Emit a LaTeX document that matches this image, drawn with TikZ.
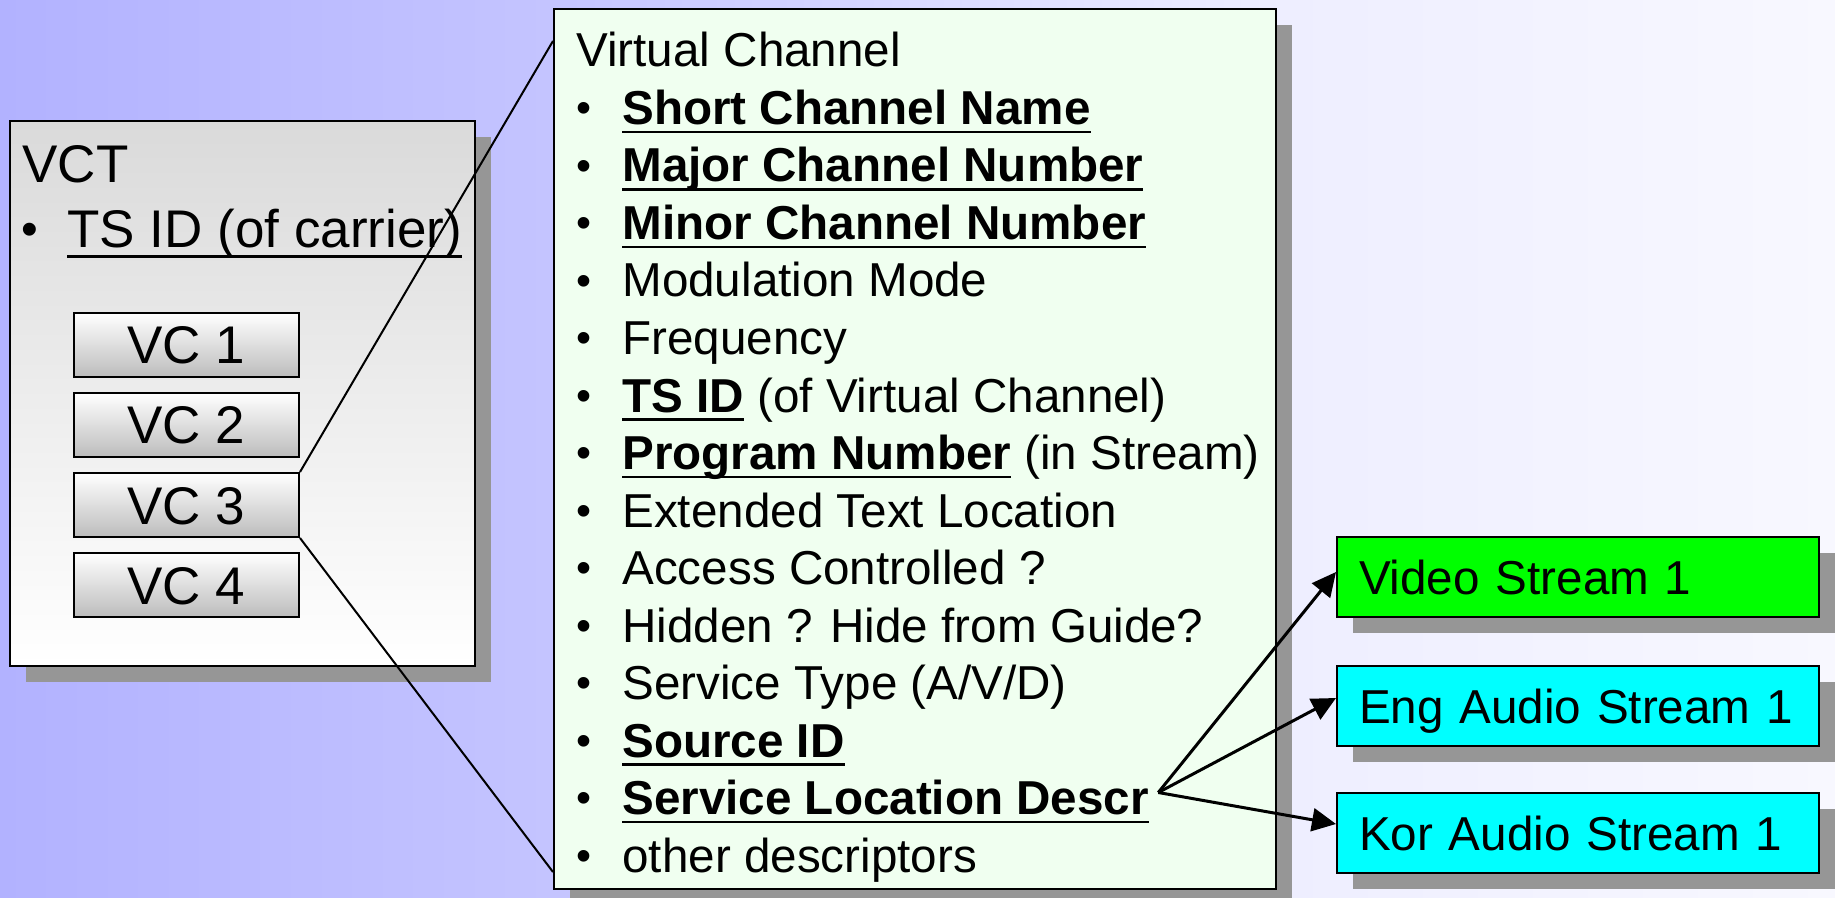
\documentclass[tikz,border=0pt]{standalone}
\usepackage{fontspec}
\setmainfont{Liberation Sans}
\usetikzlibrary{shadows,arrows.meta,calc}
\definecolor{bgL}{RGB}{178,178,255}
\definecolor{bgA}{RGB}{196,196,255}
\definecolor{bgB}{RGB}{238,238,255}
\definecolor{bgR}{RGB}{248,248,255}
\definecolor{shadowGray}{RGB}{150,150,150}
\definecolor{tblTop}{RGB}{218,218,218}
\definecolor{vcBottom}{RGB}{188,188,188}
\definecolor{chanFill}{RGB}{240,255,240}
\definecolor{videoFill}{RGB}{0,255,0}
\definecolor{audioFill}{RGB}{0,255,255}
\pgfdeclarehorizontalshading{bgshade}{100bp}{color(0bp)=(bgL); color(25bp)=(bgL); color(40bp)=(bgA); color(60bp)=(bgB); color(75bp)=(bgR); color(100bp)=(bgR)}
\newcommand{\mainsz}{\fontsize{23.8pt}{28pt}\selectfont}
\newcommand{\bigsz}{\fontsize{26.5pt}{31pt}\selectfont}
\newsavebox{\undlbox}
\newcommand{\undl}[1]{\sbox{\undlbox}{#1}\rlap{\rule[-0.18em]{\wd\undlbox}{0.05em}}\usebox{\undlbox}}
\newcommand{\itm}[1]{\makebox[23pt][l]{\raisebox{0.04em}{\scalebox{0.9}{\textbullet}}}#1}

\begin{document}
\begin{tikzpicture}[x=0.5pt,y=-0.5pt,>={Triangle[length=12pt,width=11.5pt]}]
	\tikzstyle{boxes} = [draw=black, line width=1pt, inner sep=0pt]
	\tikzstyle{shadowed} = [drop shadow={shadow xshift=8pt, shadow yshift=-8pt, fill=shadowGray, opacity=1}]
	\tikzstyle{TBL} = [boxes, shadowed, top color=tblTop, bottom color=white, minimum width=232.5pt, minimum height=272.5pt]
	\tikzstyle{VC} = [boxes, top color=white, bottom color=vcBottom, minimum width=112.5pt, minimum height=32pt, font=\bigsz, text height=19pt, text depth=0pt]
	\tikzstyle{CHAN} = [boxes, shadowed, fill=chanFill, minimum width=361pt, minimum height=440pt]
	\tikzstyle{strm} = [boxes, shadowed, minimum width=241pt, minimum height=40pt, inner xsep=11pt, text width=219pt, align=left, font=\mainsz, text height=17.5pt, text depth=0pt]
	\tikzstyle{video} = [strm, fill=videoFill]
	\tikzstyle{audio} = [strm, fill=audioFill]
	\tikzstyle{txt} = [inner sep=0pt, anchor=base west, font=\mainsz]
	\tikzstyle{bigtxt} = [txt, font=\bigsz]

	\useasboundingbox (0,0) rectangle (1835,898);
	\shade[shading=bgshade] (0,0) rectangle (1835,898);

	% table of virtual channels
	\node[TBL] (vct) at (242.5,393.5) {};
	\node[bigtxt] (vctTitle) at (22,183) {VCT};
	\node[bigtxt] (vctTsid) at (21,248) {\itm{\undl{TS ID (of carrier)}}};
	\node[VC] (vc1) at (186.5,345) {VC 1};
	\node[VC] (vc2) at (186.5,425) {VC 2};
	\node[VC] (vc3) at (186.5,505) {VC 3};
	\node[VC] (vc4) at (186.5,585) {VC 4};

	% one virtual channel
	\node[CHAN] (vchan) at (915,449) {};
	\node[txt] (vchanTitle) at (576,67) {Virtual Channel};
	\node[txt] (itShort) at (576,124.5) {\itm{\undl{\textbf{Short Channel Name}}}};
	\node[txt] (itMajor) at (576,182) {\itm{\undl{\textbf{Major Channel Number}}}};
	\node[txt] (itMinor) at (576,239.5) {\itm{\undl{\textbf{Minor Channel Number}}}};
	\node[txt] (itMod) at (576,297) {\itm{Modulation Mode}};
	\node[txt] (itFreq) at (576,354.5) {\itm{Frequency}};
	\node[txt] (itTsid) at (576,412) {\itm{\undl{\textbf{TS ID}} (of Virtual Channel)}};
	\node[txt] (itProg) at (576,469.5) {\itm{\undl{\textbf{Program Number}} (in Stream)}};
	\node[txt] (itEtl) at (576,527) {\itm{Extended Text Location}};
	\node[txt] (itAccess) at (576,584.5) {\itm{Access Controlled ?}};
	\node[txt] (itHidden) at (576,642) {\itm{Hidden ? Hide from Guide?}};
	\node[txt] (itType) at (576,699.5) {\itm{Service Type (A/V/D)}};
	\node[txt] (itSrc) at (576,757) {\itm{\undl{\textbf{Source ID}}}};
	\node[txt] (itSld) at (576,814.5) {\itm{\undl{\textbf{Service Location Descr}}}};
	\node[txt] (itOther) at (576,872) {\itm{other descriptors}};

	\draw[line width=1pt] (vc3.north east) -- ($(vchan.north west)+(0,33)$);
	\draw[line width=1pt] (vc3.south east) -- ($(vchan.south west)+(0,-18)$);

	% elementary streams
	\node[video] (vid) at (1578,577) {Video Stream 1};
	\node[audio] (eng) at (1578,705.5) {Eng Audio Stream 1};
	\node[audio] (kor) at (1578,833) {Kor Audio Stream 1};

	\coordinate (sldEnd) at ($(itSld.base east)+(9,-22)$);
	\draw[->, line width=1.5pt] (sldEnd) -- ($(vid.west)+(0,-5)$);
	\draw[->, line width=1.5pt] (sldEnd) -- ($(eng.west)+(0,-7.5)$);
	\draw[->, line width=1.5pt] (sldEnd) -- ($(kor.west)+(0,-9)$);
\end{tikzpicture}
\end{document}
